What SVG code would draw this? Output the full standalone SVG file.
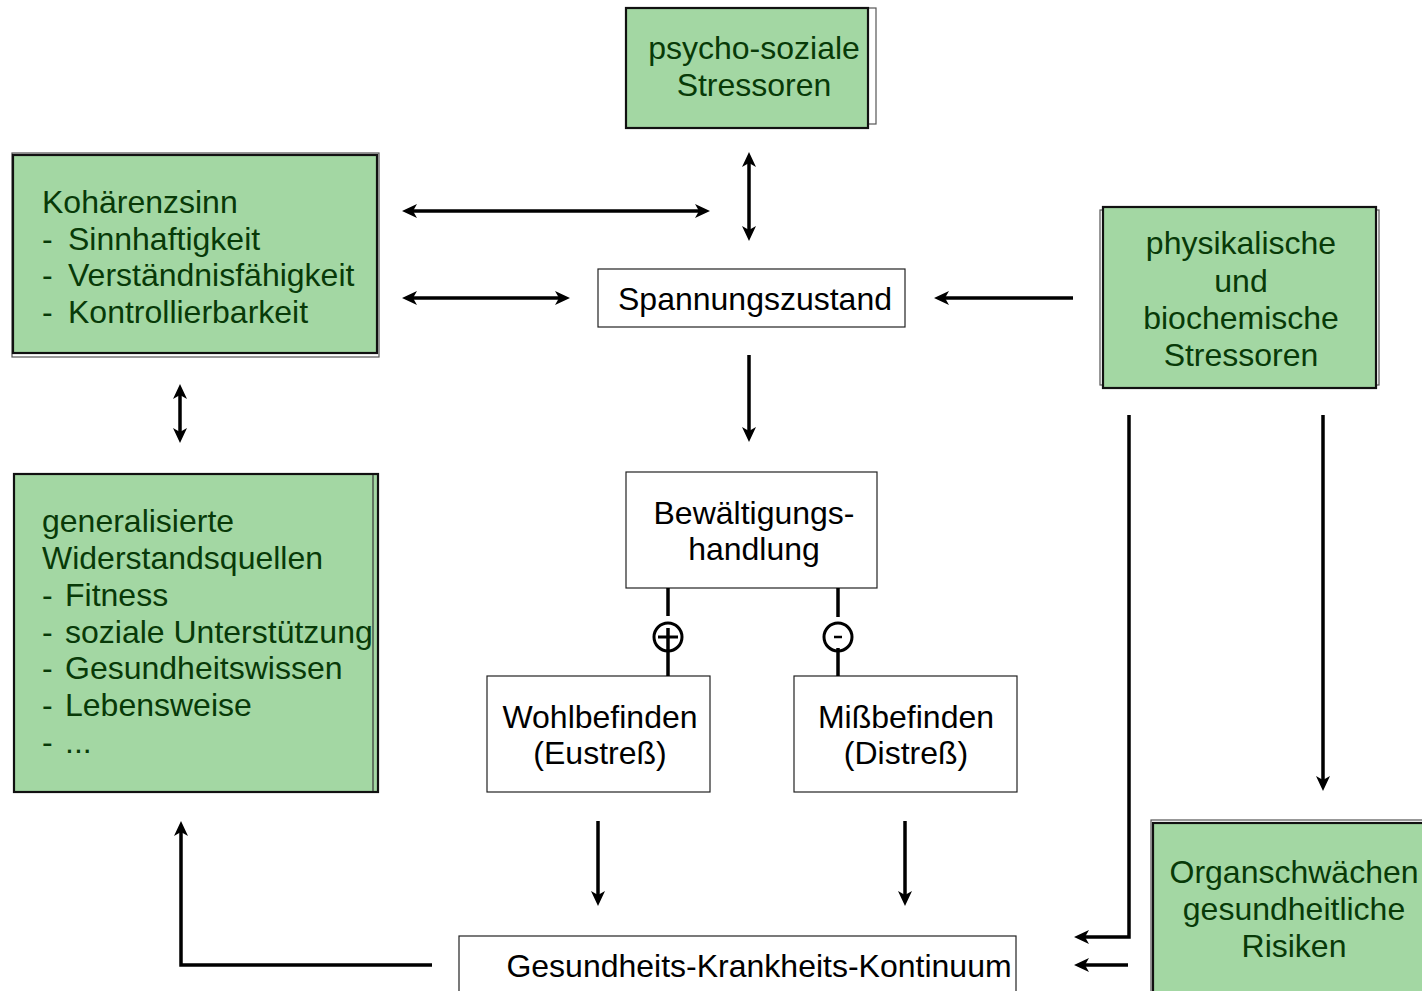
<svg xmlns="http://www.w3.org/2000/svg" width="1422" height="991" viewBox="0 0 1422 991">
<style>
.bg{fill:#ffffff}
.back{fill:none;stroke:#555;stroke-width:1.2}
.main{fill:#a3d7a3;stroke:#111;stroke-width:2.2}
.white{fill:#ffffff;stroke:#222;stroke-width:1.2}
.gt{font-family:"Liberation Sans",Arial,sans-serif;font-size:32px;fill:#083a08}
.bt{font-family:"Liberation Sans",Arial,sans-serif;font-size:32px;fill:#000}
.c{text-anchor:middle}
.ln{fill:none;stroke:#000;stroke-width:3.5}
</style>
<defs>
<marker id="ah" viewBox="0 0 15 14" refX="10" refY="7" markerWidth="15" markerHeight="14" markerUnits="userSpaceOnUse" orient="auto-start-reverse">
<path d="M0,0 L15,7 L0,14 L4,7 Z" fill="#000"/>
</marker>
</defs>
<rect class="bg" x="0" y="0" width="1422" height="991"/>

<g id="psycho">
<rect class="back" x="627" y="8" width="249" height="116"/>
<rect class="main" x="626" y="8" width="242" height="120"/>
<text class="gt c" x="754" y="59">psycho-soziale</text>
<text class="gt c" x="754" y="96">Stressoren</text>
</g>

<g id="kohaerenz">
<rect class="back" x="12" y="153" width="367" height="204"/>
<rect class="main" x="13" y="155" width="364" height="198"/>
<text class="gt" x="42" y="213">Kohärenzsinn</text>
<text class="gt" x="42" y="250">-</text><text class="gt" x="68" y="250">Sinnhaftigkeit</text>
<text class="gt" x="42" y="286">-</text><text class="gt" x="68" y="286">Verständnisfähigkeit</text>
<text class="gt" x="42" y="323">-</text><text class="gt" x="68" y="323">Kontrollierbarkeit</text>
</g>

<g id="physikalisch">
<rect class="back" x="1100" y="210" width="279" height="175"/>
<rect class="main" x="1103" y="207" width="273" height="181"/>
<text class="gt c" x="1241" y="254">physikalische</text>
<text class="gt c" x="1241" y="292">und</text>
<text class="gt c" x="1241" y="329">biochemische</text>
<text class="gt c" x="1241" y="366">Stressoren</text>
</g>

<g id="widerstand">
<rect class="main" x="14" y="474" width="364" height="318"/>
<line x1="373" y1="475" x2="373" y2="791" stroke="#333" stroke-width="1.2"/>
<text class="gt" x="42" y="532">generalisierte</text>
<text class="gt" x="42" y="569">Widerstandsquellen</text>
<text class="gt" x="42" y="606">-</text><text class="gt" x="65" y="606">Fitness</text>
<text class="gt" x="42" y="643">-</text><text class="gt" x="65" y="643">soziale Unterstützung</text>
<text class="gt" x="42" y="679">-</text><text class="gt" x="65" y="679">Gesundheitswissen</text>
<text class="gt" x="42" y="716">-</text><text class="gt" x="65" y="716">Lebensweise</text>
<text class="gt" x="42" y="753">-</text><text class="gt" x="65" y="753">...</text>
</g>

<g id="organ">
<rect class="back" x="1151" y="820" width="290" height="190"/>
<rect class="main" x="1153" y="823" width="290" height="190"/>
<text class="gt c" x="1294" y="883">Organschwächen</text>
<text class="gt c" x="1294" y="920">gesundheitliche</text>
<text class="gt c" x="1294" y="957">Risiken</text>
</g>

<g id="spannung">
<rect class="white" x="598" y="269" width="307" height="58"/>
<text class="bt c" x="755" y="310">Spannungszustand</text>
</g>

<g id="bewaeltigung">
<rect class="white" x="626" y="472" width="251" height="116"/>
<text class="bt c" x="754" y="524">Bewältigungs-</text>
<text class="bt c" x="754" y="560">handlung</text>
</g>

<g id="wohl">
<rect class="white" x="487" y="676" width="223" height="116"/>
<text class="bt c" x="600" y="728">Wohlbefinden</text>
<text class="bt c" x="600" y="764">(Eustreß)</text>
</g>

<g id="miss">
<rect class="white" x="794" y="676" width="223" height="116"/>
<text class="bt c" x="906" y="728">Mißbefinden</text>
<text class="bt c" x="906" y="764">(Distreß)</text>
</g>

<g id="kontinuum">
<rect class="white" x="459" y="936" width="557" height="70"/>
<text class="bt c" x="759" y="977">Gesundheits-Krankheits-Kontinuum</text>
</g>

<g id="connectors">
<line class="ln" x1="749" y1="157" x2="749" y2="236" marker-start="url(#ah)" marker-end="url(#ah)"/>
<line class="ln" x1="407" y1="211" x2="705" y2="211" marker-start="url(#ah)" marker-end="url(#ah)"/>
<line class="ln" x1="407" y1="298" x2="565" y2="298" marker-start="url(#ah)" marker-end="url(#ah)"/>
<line class="ln" x1="1073" y1="298" x2="939" y2="298" marker-end="url(#ah)"/>
<line class="ln" x1="749" y1="355" x2="749" y2="437" marker-end="url(#ah)"/>
<line class="ln" x1="180" y1="389" x2="180" y2="438" marker-start="url(#ah)" marker-end="url(#ah)"/>
<line class="ln" x1="598" y1="821" x2="598" y2="901" marker-end="url(#ah)"/>
<line class="ln" x1="905" y1="821" x2="905" y2="901" marker-end="url(#ah)"/>
<path class="ln" d="M1129,415 V937 H1079" marker-end="url(#ah)"/>
<line class="ln" x1="1323" y1="415" x2="1323" y2="786" marker-end="url(#ah)"/>
<line class="ln" x1="1128" y1="965" x2="1079" y2="965" marker-end="url(#ah)"/>
<path class="ln" d="M432,965 H181 V826" marker-end="url(#ah)"/>
<line class="ln" x1="668" y1="588" x2="668" y2="616"/>
<circle cx="668" cy="637" r="14" fill="#fff" stroke="#000" stroke-width="3"/>
<line class="ln" x1="668" y1="628" x2="668" y2="676"/>
<line x1="658" y1="637" x2="678" y2="637" stroke="#000" stroke-width="3"/>
<line class="ln" x1="838" y1="588" x2="838" y2="617"/>
<circle cx="838" cy="637" r="14" fill="#fff" stroke="#000" stroke-width="3"/>
<line class="ln" x1="838" y1="648" x2="838" y2="676"/>
<line x1="834" y1="637" x2="842" y2="637" stroke="#000" stroke-width="2.5"/>
</g>
</svg>
